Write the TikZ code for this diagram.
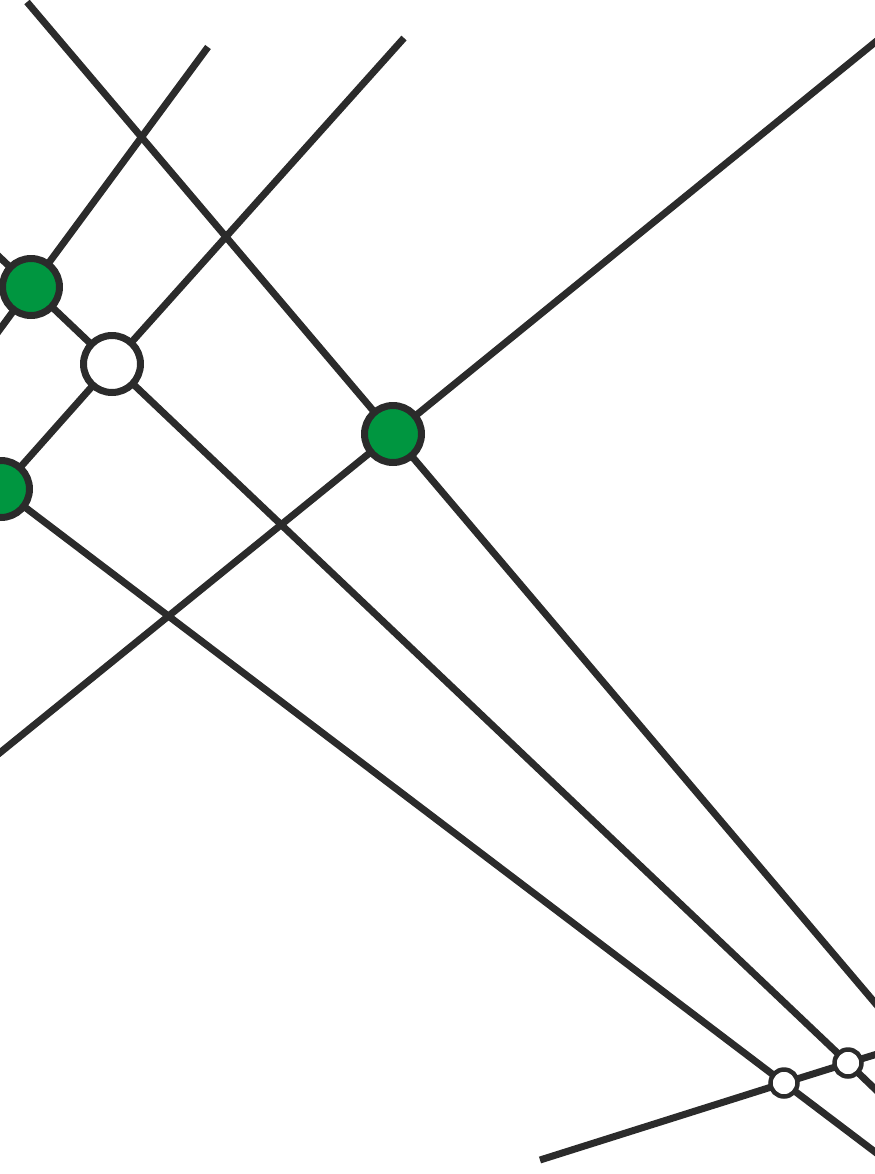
\documentclass[tikz,border=0pt]{standalone}
\usepackage{xcolor}
\usetikzlibrary{positioning}
\definecolor{linecol}{HTML}{2B2B2B}
\definecolor{dotgreen}{HTML}{009640}

\begin{document}
\begin{tikzpicture}[x=0.02cm,y=-0.02cm,
  ray/.style={line width=0.14cm,linecol,line cap=butt},
  bigdot/.style={circle,draw=linecol,line width=0.14cm,minimum size=1.14cm,inner sep=0pt},
  smalldot/.style={circle,draw=linecol,fill=white,line width=0.09cm,minimum size=0.54cm,inner sep=0pt}
]
  \useasboundingbox (0,0) rectangle (875,1174);
  \clip (0,0) rectangle (875,1174);
  % crossing points
  \coordinate (gA) at (31,287);
  \coordinate (wA) at (112,364);
  \coordinate (gB) at (1,489);
  \coordinate (gC) at (393,434);
  \coordinate (wB) at (784,1083);
  \coordinate (wC) at (848,1063);
  % free ends of the lines
  \coordinate (t1) at (27,2);
  \coordinate (b1) at (942,1082);
  \coordinate (t2) at (208,47);
  \coordinate (b2) at (-30,370);
  \coordinate (t3) at (404,38);
  \coordinate (b3) at (-30,524);
  \coordinate (t4) at (900,22);
  \coordinate (b4) at (-30,777);
  \coordinate (t5) at (-30,229);
  \coordinate (b5) at (900,1113);
  \coordinate (t6) at (-30,466);
  \coordinate (b6) at (920,1186);
  \coordinate (t7) at (540,1160);
  \coordinate (b7) at (900,1047);

  \draw[ray] (t1) -- (gC) -- (b1);
  \draw[ray] (t2) -- (gA) -- (b2);
  \draw[ray] (t3) -- (wA) -- (gB) -- (b3);
  \draw[ray] (t4) -- (gC) -- (b4);
  \draw[ray] (t5) -- (gA) -- (wA) -- (wC) -- (b5);
  \draw[ray] (t6) -- (gB) -- (wB) -- (b6);
  \draw[ray] (t7) -- (wB) -- (wC) -- (b7);

  \node[bigdot,fill=dotgreen] (nA) at (gA) {};
  \node[bigdot,fill=white] (nW) at (wA) {};
  \node[bigdot,fill=dotgreen] (nB) at (gB) {};
  \node[bigdot,fill=dotgreen] (nC) at (gC) {};
  \node[smalldot] (sB) at (wB) {};
  \node[smalldot] (sC) at (wC) {};
\end{tikzpicture}
\end{document}
